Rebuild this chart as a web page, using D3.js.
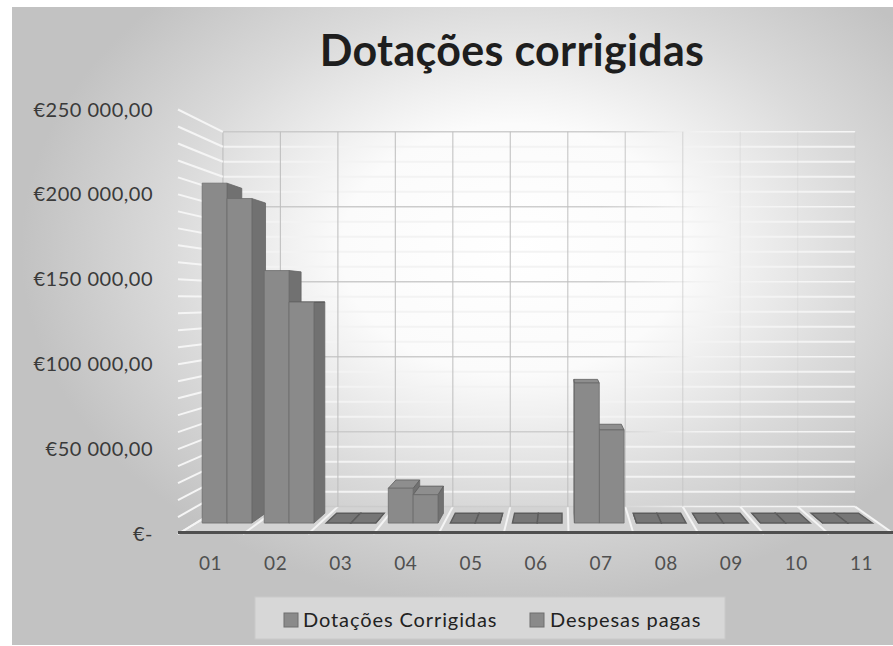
<!DOCTYPE html>
<html><head><meta charset="utf-8">
<script src="https://cdn.jsdelivr.net/npm/d3@7"></script>
<style>body{margin:0;background:#fff;} svg{display:block;}</style>
</head><body>
<script>
const categories = ["01","02","03","04","05","06","07","08","09","10","11"];
const seriesNames = ["Dotações Corrigidas","Despesas pagas"];
const dotacoes = [210000,156000,0,21500,0,0,86500,0,0,0,0];
const despesas = [200500,136500,0,17500,0,0,57500,0,0,0,0];
const yTicks = [0,50000,100000,150000,200000,250000];
const minorStep = 10000;
const titleText = "Dotações corrigidas";

const W=893,H=646;
const svg = d3.select("body").append("svg").attr("width",W).attr("height",H);
const defs = svg.append("defs");

// background gradient
const bg = defs.append("radialGradient").attr("id","bg")
  .attr("cx",0.57).attr("cy",0.38).attr("r",0.56);
[[0,"#ffffff"],[0.35,"#fbfbfb"],[0.7,"#dadada"],[1,"#c2c2c2"]].forEach(s=>bg.append("stop").attr("offset",s[0]).attr("stop-color",s[1]));
const gl = defs.append("linearGradient").attr("id","gl").attr("gradientUnits","userSpaceOnUse")
  .attr("x1",221).attr("x2",855).attr("y1",0).attr("y2",0);
[[0,"#c9c9c9"],[0.6,"#cfcfcf"],[0.75,"#f2f2f2"],[1,"#f6f6f6"]].forEach(s=>gl.append("stop").attr("offset",s[0]).attr("stop-color",s[1]));

svg.append("rect").attr("x",12).attr("y",7).attr("width",W-12).attr("height",H-8).attr("fill","url(#bg)");

// perspective projection
const VX=562, VY=300, K=0.117;
const P = (px,py,z)=>{const s=1-K*z;return [VX+(px-VX)*s, VY+(py-VY)*s];};
const poly = pts => "M"+pts.map(p=>p.join(",")).join("L")+"Z";

const xFull = d3.scaleBand().domain(categories).range([178,894]);
const x = d3.scaleBand().domain(categories).range([178,894]).paddingInner(0.2).paddingOuter(0.1);
const xs = d3.scaleBand().domain(d3.range(seriesNames.length)).range([0,x.bandwidth()]);
const yMax = d3.max(yTicks);
const y = d3.scaleLinear().domain([0,yMax]).range([534,109.5]);
const minorTicks = d3.range(0,yMax+1,minorStep);

const g = svg.append("g");
// floor
const x0F = xFull.range()[0], x1F = xFull.range()[1];
g.append("path").attr("d",poly([P(x0F,y(0),0),P(x1F,y(0),0),P(x1F,y(0),1),P(x0F,y(0),1)]))
  .attr("fill","#d3d3d3");
const bounds = categories.map(c=>xFull(c)).concat([x1F]);
bounds.forEach(b=>{
  const a=P(b,y(0),0), c=P(b,y(0),1);
  g.append("line").attr("x1",a[0]).attr("y1",a[1]).attr("x2",c[0]).attr("y2",c[1])
   .attr("stroke","#f4f4f4").attr("stroke-width",2);
});
// back wall minor lines
minorTicks.forEach(v=>{
  const a=P(x0F,y(v),1), b=P(x1F,y(v),1);
  const major = yTicks.includes(v);
  g.append("line").attr("x1",a[0]).attr("y1",a[1]).attr("x2",b[0]).attr("y2",b[1])
   .attr("stroke", major ? "url(#gl)" : "#f3f3f3").attr("stroke-width", major?1.5:2);
});
// back wall vertical lines
const vOp = d3.scaleLinear().domain([221,600,760]).range([0.9,0.8,0.15]).clamp(true);
bounds.forEach(b=>{
  const a=P(b,y(0),1), c=P(b,y(yMax),1);
  g.append("line").attr("x1",a[0]).attr("y1",a[1]).attr("x2",c[0]).attr("y2",c[1])
   .attr("stroke","#bdbdbd").attr("stroke-opacity",vOp(a[0])).attr("stroke-width",1.2);
});
// left wall lines
minorTicks.forEach(v=>{
  const a=P(x0F,y(v),0), b=P(x0F,y(v),1);
  g.append("line").attr("x1",a[0]).attr("y1",a[1]).attr("x2",b[0]).attr("y2",b[1])
   .attr("stroke","#f5f5f5").attr("stroke-width",2);
});

// bars
const zf=0.40, zb=0.76;
const bars=[];
categories.forEach((c,i)=>{
  [dotacoes[i],despesas[i]].forEach((v,j)=>{
    const bx0 = x(c)+xs(j), bx1 = bx0+xs.bandwidth();
    bars.push({bx0,bx1,v,yt:y(v),yb:y(0)});
  });
});
bars.sort((a,b)=>Math.abs((b.bx0+b.bx1)/2-VX)-Math.abs((a.bx0+a.bx1)/2-VX));
const gb = svg.append("g");
bars.forEach(d=>{
  const {bx0,bx1,yt,yb}=d;
  if (bx1 < VX) gb.append("path").attr("d",poly([P(bx1,yt,zf),P(bx1,yt,zb),P(bx1,yb,zb),P(bx1,yb,zf)]))
      .attr("fill","#717171").attr("stroke","#666").attr("stroke-width",0.8);
  if (bx0 > VX) gb.append("path").attr("d",poly([P(bx0,yt,zf),P(bx0,yt,zb),P(bx0,yb,zb),P(bx0,yb,zf)]))
      .attr("fill","#717171").attr("stroke","#666").attr("stroke-width",0.8);
  if (P(bx0,yt,zf)[1] > VY) gb.append("path").attr("d",poly([P(bx0,yt,zf),P(bx1,yt,zf),P(bx1,yt,zb),P(bx0,yt,zb)]))
      .attr("fill", d.v===0 ? "#767676" : "#8e8e8e").attr("stroke","#5c5c5c").attr("stroke-width",d.v===0?1.4:0.8);
  if (d.v>0) gb.append("path").attr("d",poly([P(bx0,yt,zf),P(bx1,yt,zf),P(bx1,yb,zf),P(bx0,yb,zf)]))
      .attr("fill","#8a8a8a").attr("stroke","#6c6c6c").attr("stroke-width",0.8);
});

// floor front edge
svg.append("line").attr("x1",178).attr("x2",W).attr("y1",532.5).attr("y2",532.5)
  .attr("stroke","#4f4f4f").attr("stroke-width",3);

// y labels
const loc = d3.formatLocale({decimal:",",thousands:" ",grouping:[3],currency:["€",""]});
const f2 = loc.format(",.2f");
const fmt = v => v===0 ? "€-" : "€"+f2(v);
svg.append("g").selectAll("text").data(yTicks).join("text")
  .attr("x",153).attr("y",d=>y(d)).attr("dy","0.35em").attr("text-anchor","end")
  .attr("font-family","Lato").attr("font-size",20).attr("letter-spacing",0.5)
  .attr("fill","#3a3a3a").text(fmt);

// category labels
svg.append("g").selectAll("text").data(categories).join("text")
  .attr("x",d=>xFull(d)+xFull.bandwidth()/2).attr("y",570).attr("text-anchor","middle")
  .attr("font-family","Lato").attr("font-size",19).attr("letter-spacing",0.5).attr("fill","#505050").text(d=>d);

// title
svg.append("text").attr("x",512).attr("y",66).attr("text-anchor","middle")
  .attr("font-family","Lato").attr("font-weight",700).attr("font-size",43).attr("letter-spacing",0.3)
  .attr("fill","#1e1e1e").text(titleText);

// legend
svg.append("rect").attr("x",255).attr("y",597).attr("width",470).attr("height",42)
  .attr("fill","#d7d7d7").attr("stroke","#c9c9c9");
const legX=[284,530], legTX=[303,550];
seriesNames.forEach((n,i)=>{
  svg.append("rect").attr("x",legX[i]).attr("y",613).attr("width",14).attr("height",14)
    .attr("fill","#8a8a8a").attr("stroke","#6e6e6e");
  svg.append("text").attr("x",legTX[i]).attr("y",627).attr("font-family","Lato").attr("font-size",20)
    .attr("letter-spacing",0.9).attr("fill","#222").text(n);
});
</script>
</body></html>
